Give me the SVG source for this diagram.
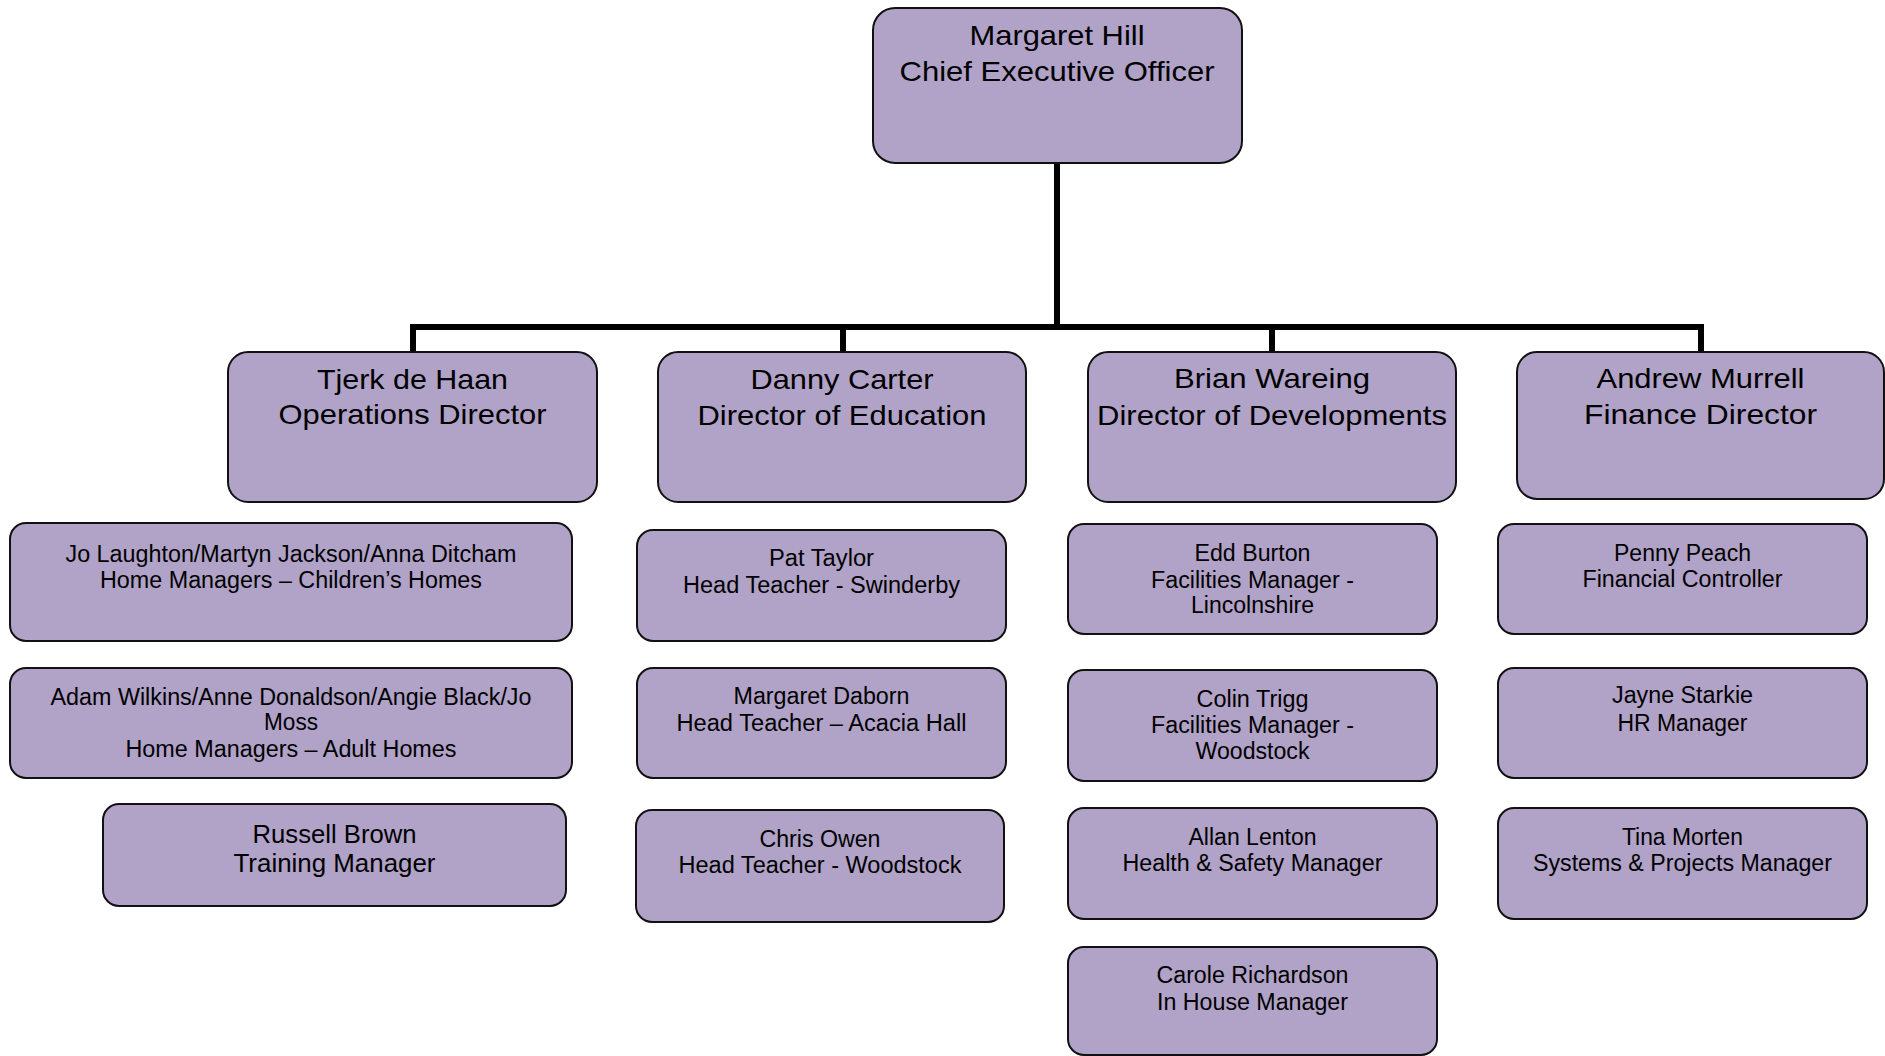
<svg xmlns="http://www.w3.org/2000/svg" width="1885" height="1056" viewBox="0 0 1885 1056">
<style>
.box{fill:#B1A2C7;stroke:#111;stroke-width:2}
.t{font-family:"Liberation Sans",Arial,sans-serif;fill:#000;text-anchor:middle}
.big{font-size:28px}
.sm{font-size:23px}
.md{font-size:26px}
.conn{fill:none;stroke:#000;stroke-width:6;stroke-linejoin:miter}
</style>
<rect width="1885" height="1056" fill="#fff"/>
<g id="connectors">
<path class="conn" d="M1057 163 V327 M413 353 V327 H1701 V353 M843 327 V353 M1272 327 V353"/>
</g>
<g id="ceo">
<rect class="box" x="873" y="8" width="369" height="155" rx="22"/>
<text class="t big" x="1057" y="45" textLength="175" lengthAdjust="spacingAndGlyphs">Margaret Hill</text>
<text class="t big" x="1057" y="81" textLength="315" lengthAdjust="spacingAndGlyphs">Chief Executive Officer</text>
</g>
<g id="tjerk">
<rect class="box" x="228" y="352" width="369" height="150" rx="20"/>
<text class="t big" x="412.5" y="389" textLength="191" lengthAdjust="spacingAndGlyphs">Tjerk de Haan</text>
<text class="t big" x="412.5" y="424" textLength="268" lengthAdjust="spacingAndGlyphs">Operations Director</text>
</g>
<g id="danny">
<rect class="box" x="658" y="352" width="368" height="150" rx="20"/>
<text class="t big" x="842" y="389" textLength="183" lengthAdjust="spacingAndGlyphs">Danny Carter</text>
<text class="t big" x="842" y="425" textLength="289" lengthAdjust="spacingAndGlyphs">Director of Education</text>
</g>
<g id="brian">
<rect class="box" x="1088" y="352" width="368" height="150" rx="20"/>
<text class="t big" x="1272" y="388" textLength="196" lengthAdjust="spacingAndGlyphs">Brian Wareing</text>
<text class="t big" x="1272" y="425" textLength="350" lengthAdjust="spacingAndGlyphs">Director of Developments</text>
</g>
<g id="andrew">
<rect class="box" x="1517" y="352" width="367" height="147" rx="20"/>
<text class="t big" x="1700.5" y="388" textLength="208" lengthAdjust="spacingAndGlyphs">Andrew Murrell</text>
<text class="t big" x="1700.5" y="424" textLength="233" lengthAdjust="spacingAndGlyphs">Finance Director</text>
</g>
<g id="jo">
<rect class="box" x="10" y="523" width="562" height="118" rx="16"/>
<text class="t sm" x="291" y="562" textLength="451" lengthAdjust="spacingAndGlyphs">Jo Laughton/Martyn Jackson/Anna Ditcham</text>
<text class="t sm" x="291" y="588" textLength="382" lengthAdjust="spacingAndGlyphs">Home Managers – Children’s Homes</text>
</g>
<g id="adam">
<rect class="box" x="10" y="668" width="562" height="110" rx="16"/>
<text class="t sm" x="291" y="705" textLength="481" lengthAdjust="spacingAndGlyphs">Adam Wilkins/Anne Donaldson/Angie Black/Jo</text>
<text class="t sm" x="291" y="730" textLength="54" lengthAdjust="spacingAndGlyphs">Moss</text>
<text class="t sm" x="291" y="757" textLength="331" lengthAdjust="spacingAndGlyphs">Home Managers – Adult Homes</text>
</g>
<g id="russell">
<rect class="box" x="103" y="804" width="463" height="102" rx="16"/>
<text class="t md" x="334.5" y="843" textLength="164" lengthAdjust="spacingAndGlyphs">Russell Brown</text>
<text class="t md" x="334.5" y="872" textLength="202" lengthAdjust="spacingAndGlyphs">Training Manager</text>
</g>
<g id="pat">
<rect class="box" x="637" y="530" width="369" height="111" rx="16"/>
<text class="t sm" x="821.5" y="566" textLength="105" lengthAdjust="spacingAndGlyphs">Pat Taylor</text>
<text class="t sm" x="821.5" y="593" textLength="277" lengthAdjust="spacingAndGlyphs">Head Teacher - Swinderby</text>
</g>
<g id="daborn">
<rect class="box" x="637" y="668" width="369" height="110" rx="16"/>
<text class="t sm" x="821.5" y="704" textLength="176" lengthAdjust="spacingAndGlyphs">Margaret Daborn</text>
<text class="t sm" x="821.5" y="731" textLength="290" lengthAdjust="spacingAndGlyphs">Head Teacher – Acacia Hall</text>
</g>
<g id="chris">
<rect class="box" x="636" y="810" width="368" height="112" rx="16"/>
<text class="t sm" x="820" y="847" textLength="121" lengthAdjust="spacingAndGlyphs">Chris Owen</text>
<text class="t sm" x="820" y="873" textLength="283" lengthAdjust="spacingAndGlyphs">Head Teacher - Woodstock</text>
</g>
<g id="edd">
<rect class="box" x="1068" y="524" width="369" height="110" rx="16"/>
<text class="t sm" x="1252.5" y="561" textLength="116" lengthAdjust="spacingAndGlyphs">Edd Burton</text>
<text class="t sm" x="1252.5" y="588" textLength="203" lengthAdjust="spacingAndGlyphs">Facilities Manager -</text>
<text class="t sm" x="1252.5" y="613" textLength="123" lengthAdjust="spacingAndGlyphs">Lincolnshire</text>
</g>
<g id="colin">
<rect class="box" x="1068" y="670" width="369" height="111" rx="16"/>
<text class="t sm" x="1252.5" y="707" textLength="112" lengthAdjust="spacingAndGlyphs">Colin Trigg</text>
<text class="t sm" x="1252.5" y="733" textLength="203" lengthAdjust="spacingAndGlyphs">Facilities Manager -</text>
<text class="t sm" x="1252.5" y="759" textLength="114" lengthAdjust="spacingAndGlyphs">Woodstock</text>
</g>
<g id="allan">
<rect class="box" x="1068" y="808" width="369" height="111" rx="16"/>
<text class="t sm" x="1252.5" y="845" textLength="128" lengthAdjust="spacingAndGlyphs">Allan Lenton</text>
<text class="t sm" x="1252.5" y="871" textLength="260" lengthAdjust="spacingAndGlyphs">Health &amp; Safety Manager</text>
</g>
<g id="carole">
<rect class="box" x="1068" y="947" width="369" height="108" rx="16"/>
<text class="t sm" x="1252.5" y="983" textLength="192" lengthAdjust="spacingAndGlyphs">Carole Richardson</text>
<text class="t sm" x="1252.5" y="1010" textLength="191" lengthAdjust="spacingAndGlyphs">In House Manager</text>
</g>
<g id="penny">
<rect class="box" x="1498" y="524" width="369" height="110" rx="16"/>
<text class="t sm" x="1682.5" y="561" textLength="137" lengthAdjust="spacingAndGlyphs">Penny Peach</text>
<text class="t sm" x="1682.5" y="587" textLength="200" lengthAdjust="spacingAndGlyphs">Financial Controller</text>
</g>
<g id="jayne">
<rect class="box" x="1498" y="668" width="369" height="110" rx="16"/>
<text class="t sm" x="1682.5" y="703" textLength="141" lengthAdjust="spacingAndGlyphs">Jayne Starkie</text>
<text class="t sm" x="1682.5" y="731" textLength="130" lengthAdjust="spacingAndGlyphs">HR Manager</text>
</g>
<g id="tina">
<rect class="box" x="1498" y="808" width="369" height="111" rx="16"/>
<text class="t sm" x="1682.5" y="845" textLength="121" lengthAdjust="spacingAndGlyphs">Tina Morten</text>
<text class="t sm" x="1682.5" y="871" textLength="299" lengthAdjust="spacingAndGlyphs">Systems &amp; Projects Manager</text>
</g>
</svg>
